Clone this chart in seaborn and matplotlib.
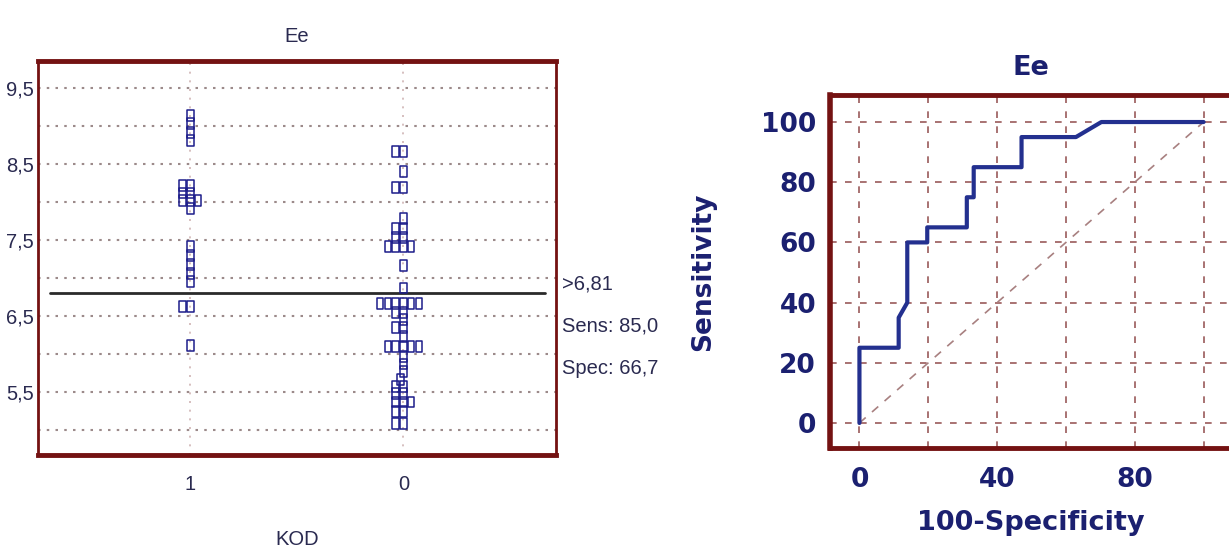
import numpy as np
import pandas as pd
import matplotlib
matplotlib.use("Agg")
import matplotlib.pyplot as plt
from matplotlib.path import Path
from matplotlib.ticker import MultipleLocator
import seaborn as sns

# --- dot plot data: Ee by KOD group ---
kod1_values = [9.14, 9.03, 8.92, 8.81,
               8.22, 8.22, 8.12, 8.12, 8.02, 8.02, 8.02, 7.92,
               7.41, 7.30, 7.18, 7.06, 6.95,
               6.63, 6.63, 6.11]
kod0_values = [8.66, 8.66, 8.40, 8.19, 8.19, 7.79, 7.65, 7.65, 7.54, 7.54,
               7.42, 7.42, 7.42, 7.42, 7.17, 6.87,
               6.67, 6.67, 6.67, 6.67, 6.67, 6.67,
               6.55, 6.55, 6.45, 6.35, 6.35, 6.23,
               6.10, 6.10, 6.10, 6.10, 6.10,
               5.97, 5.87, 5.77, 5.67,
               5.58, 5.58, 5.48, 5.48,
               5.37, 5.37, 5.37,
               5.24, 5.24, 5.09, 5.09]
group_order = ["1", "0"]
cutoff = 6.81
cutoff_text = [">6,81", "Sens: 85,0", "Spec: 66,7"]
ee_ticks = [5.0, 5.5, 6.0, 6.5, 7.0, 7.5, 8.0, 8.5, 9.0, 9.5]

# --- ROC curve ---
roc_fpr = [0, 0, 11.4, 11.4, 13.9, 13.9, 19.7, 19.7, 31.2, 31.2, 33.2, 33.2,
           47.1, 47.1, 62.9, 70.3, 100]
roc_tpr = [0, 25, 25, 35, 40, 60, 60, 65, 65, 75, 75, 85,
           85, 95, 95, 100, 100]
diag = [0, 100]

df = pd.DataFrame({
    "KOD": ["1"] * len(kod1_values) + ["0"] * len(kod0_values),
    "Ee": kod1_values + kod0_values,
})

sns.set_style("white")
plt.rcParams["font.family"] = ["Liberation Sans", "DejaVu Sans"]
narrow = ["Liberation Sans", "DejaVu Sans"]
wide = ["DejaVu Sans"]

navy = "#1c1c8a"
txt_left = "#2a2a50"
txt_right = "#1b2070"
frame_red = "#741212"

fig = plt.figure(figsize=(12.29, 5.51), dpi=100)

# ---------------- left: dot plot ----------------
ax1 = fig.add_axes([0.031, 0.174, 0.421, 0.715])
sns.swarmplot(data=df, x="KOD", y="Ee", order=group_order, size=4.2,
              color=navy, edgecolor=navy, linewidth=1.1, ax=ax1)
# tall open rectangles like the original dot plot
rect = Path([(-0.56, -0.94), (0.56, -0.94), (0.56, 0.94), (-0.56, 0.94), (-0.56, -0.94)],
            closed=True)
for coll in ax1.collections:
    coll.set_facecolor("none")
    coll.set_paths([rect])

ax1.set_xlim(-0.714, 1.714)
ax1.set_ylim(4.671, 9.855)
ax1.set_yticks(ee_ticks)
ax1.set_yticklabels([f"{t:.1f}".replace(".", ",") if t % 1 else "" for t in ee_ticks])
ax1.yaxis.set_minor_locator(MultipleLocator(0.1))
ax1.yaxis.grid(True, linestyle=(0, (1.2, 3)), color="#9c8a8a", lw=1.5)
ax1.xaxis.grid(True, linestyle=(0, (1.2, 4)), color="#d0b4b4", lw=1.2)
ax1.set_axisbelow(True)
ax1.axhline(cutoff, xmin=0.023, xmax=0.98, color="#2a2a2a", lw=2)

ax1.tick_params(axis="y", which="major", direction="in", length=7, width=1.3,
                color=frame_red, pad=3, labelsize=14.5, labelcolor=txt_left)
ax1.tick_params(axis="y", which="minor", direction="in", length=4, width=1.1,
                color=frame_red)
ax1.tick_params(axis="x", which="major", length=0, pad=14, labelsize=14.5,
                labelcolor=txt_left)
for lab in ax1.get_xticklabels() + ax1.get_yticklabels():
    lab.set_fontfamily(narrow)
for side, s in ax1.spines.items():
    s.set_color(frame_red)
    s.set_linewidth(3.5 if side in ("top", "bottom") else 2)

ax1.set_title("Ee", fontsize=14.5, color=txt_left, pad=14, fontfamily=narrow)
ax1.set_xlabel("KOD", fontsize=14.5, color=txt_left, labelpad=26, fontfamily=narrow)
ax1.set_ylabel("")

for ty, t in zip([0.485, 0.408, 0.332], cutoff_text):
    fig.text(0.457, ty, t, fontsize=14.5, color=txt_left, va="center",
             fontfamily=narrow)

# ---------------- right: ROC curve ----------------
ax2 = fig.add_axes([0.6753, 0.187, 0.327, 0.6407])
ax2.plot(diag, diag, linestyle=(0, (5, 5)), color="#a88080", lw=1.2)
sns.lineplot(x=roc_fpr, y=roc_tpr, sort=False, estimator=None,
             color="#23308f", lw=3, ax=ax2)
ax2.set_xlim(-8.57, 108.2)
ax2.set_ylim(-8.3, 109)
ax2.set_xticks(np.arange(0, 101, 20))
ax2.set_xticklabels(["0", "", "40", "", "80", ""])
ax2.set_yticks(np.arange(0, 101, 20))
ax2.xaxis.set_minor_locator(MultipleLocator(5))
ax2.yaxis.set_minor_locator(MultipleLocator(5))
ax2.grid(True, which="major", linestyle=(0, (4, 5)), color="#9a5a5a", lw=1.2)
ax2.set_axisbelow(True)

ax2.tick_params(axis="both", which="major", direction="in", length=18, width=2,
                color="#b52525", labelsize=19, labelcolor=txt_right)
ax2.tick_params(axis="y", which="major", pad=10)
ax2.tick_params(axis="x", which="major", pad=14, color="#6e1818")
ax2.tick_params(axis="both", which="minor", direction="in", length=9, width=2,
                color="#3a1414")
for lab in ax2.get_xticklabels() + ax2.get_yticklabels():
    lab.set_fontfamily(wide)
    lab.set_fontweight("bold")
for side, s in ax2.spines.items():
    s.set_color(frame_red)
    s.set_linewidth(4 if side == "left" else 3.5)

ax2.set_title("Ee", fontsize=19.5, color=txt_right, pad=14, fontfamily=wide,
              fontweight="bold")
ax2.set_xlabel("100-Specificity", fontsize=19.5, color=txt_right, labelpad=12,
               fontfamily=wide, fontweight="bold")
ax2.set_ylabel("Sensitivity", fontsize=19, color=txt_right, labelpad=32,
               fontfamily=wide, fontweight="bold")

fig.savefig("out.png", dpi=100)
